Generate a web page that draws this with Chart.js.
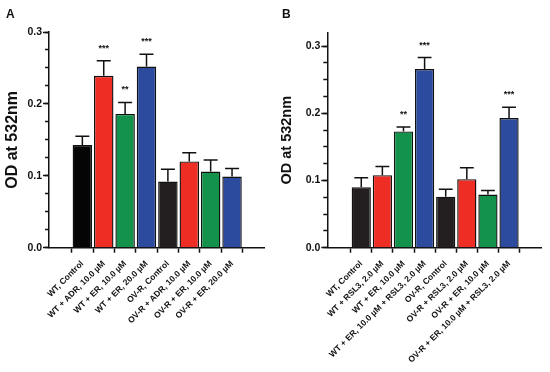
<!DOCTYPE html>
<html>
<head>
<meta charset="utf-8">
<script src="https://cdn.jsdelivr.net/npm/chart.js@4.4.1/dist/chart.umd.min.js"></script>
<style>
  html, body { margin: 0; padding: 0; background: #fff; }
  #wrap { position: relative; width: 550px; height: 372px; overflow: hidden; }
  canvas { position: absolute; top: 0; }
  .panel { position: absolute; top: 8px; font: bold 12px Arial, "Liberation Sans", sans-serif; line-height: 1; color: #111; }
</style>
</head>
<body>
<div id="wrap">
  <canvas id="chartA" width="275" height="372" style="left:0"></canvas>
  <canvas id="chartB" width="275" height="372" style="left:275px"></canvas>
  <div class="panel" style="left:6px">A</div>
  <div class="panel" style="left:282px">B</div>
</div>
<script>
// DATA FOR PANEL A
const labelsA = ["WT, Control", "WT + ADR, 10.0 µM", "WT + ER, 10.0 µM", "WT + ER, 20.0 µM",
  "OV-R, Control", "OV-R + ADR, 10.0 µM", "OV-R + ER, 10.0 µM", "OV-R + ER, 20.0 µM"];
const meansA = [0.143, 0.239, 0.186, 0.252, 0.092, 0.120, 0.106, 0.099];
const semA = [0.012, 0.021, 0.016, 0.017, 0.017, 0.012, 0.016, 0.011];
const starsA = ["", "***", "**", "***", "", "", "", ""];

// DATA FOR PANEL B
const labelsB = ["WT, Control", "WT + RSL3, 2.0 µM", "WT + ER, 10.0 µM", "WT + ER, 10.0 µM + RSL3, 2.0 µM",
  "OV-R, Control", "OV-R + RSL3, 2.0 µM", "OV-R + ER, 10.0 µM", "OV-R + ER, 10.0 µM + RSL3, 2.0 µM"];
const meansB = [0.090, 0.108, 0.173, 0.266, 0.076, 0.102, 0.079, 0.193];
const semB = [0.014, 0.013, 0.0065, 0.017, 0.011, 0.017, 0.006, 0.016];
const starsB = ["", "", "**", "***", "", "", "", "***"];

// BAR COLOURS
const colorsA = ["#050505", "#ee2e24", "#12924a", "#2d4b9e", "#231f20", "#ee2e24", "#12924a", "#2d4b9e"];
const colorsB = ["#231f20", "#ee2e24", "#12924a", "#2d4b9e", "#231f20", "#ee2e24", "#12924a", "#2d4b9e"];

const FONT = 'Arial, "Liberation Sans", sans-serif';
Chart.defaults.font.family = FONT;
Chart.defaults.color = "#111";

// ERROR BARS (UPPER ONLY) AND SIGNIFICANCE STARS
function errorBarPlugin(sems, stars) {
	return {
		id: "errorBars",
		afterDatasetsDraw(chart) {
			const ctx = chart.ctx;
			const y = chart.scales.y;
			const meta = chart.getDatasetMeta(0);
			const data = chart.data.datasets[0].data;
			ctx.save();
			ctx.strokeStyle = "#111";
			ctx.lineWidth = 1.5;
			ctx.fillStyle = "#111";
			ctx.font = "bold 9px " + FONT;
			ctx.textAlign = "center";
			meta.data.forEach(function (bar, i) {
				const top = y.getPixelForValue(data[i].y + sems[i]);
				const half = bar.width * 0.36;
				ctx.beginPath();
				ctx.moveTo(bar.x, bar.y);
				ctx.lineTo(bar.x, top);
				ctx.moveTo(bar.x - half, top);
				ctx.lineTo(bar.x + half, top);
				ctx.stroke();
				if (stars[i]) ctx.fillText(stars[i], bar.x, top - 10);
			});
			ctx.restore();
		},
	};
}

function drawPanel(id, labels, means, sems, stars, colors, frame) {
	new Chart(document.getElementById(id), {
		type: "bar",
		data: {
			datasets: [{
				data: means.map((v, i) => ({ x: i, y: v })),
				backgroundColor: colors,
				borderColor: "#111",
				borderWidth: 1.4,
				barPercentage: 0.91,
				categoryPercentage: 1,
			}],
		},
		options: {
			responsive: false,
			animation: false,
			layout: { padding: { left: 0, top: frame.top, right: frame.right, bottom: 0 } },
			plugins: { legend: { display: false }, tooltip: { enabled: false } },
			scales: {
				x: {
					type: "linear",
					min: frame.xMin,
					max: frame.xMax,
					afterFit: (s) => { s.height = frame.xHeight; },
					border: { color: "#111", width: 1.5 },
					grid: { drawOnChartArea: false, tickLength: 5, tickWidth: 1.5, tickColor: "#111" },
					ticks: {
						stepSize: 1, includeBounds: false, autoSkip: false,
						minRotation: 45, maxRotation: 45, padding: 6,
						font: { size: 8.5, weight: "bold" },
						callback: (v) => labels[v],
					},
				},
				y: {
					min: 0,
					max: frame.yMax,
					weight: 1,
					afterFit: (s) => { s.width = frame.left; },
					border: { color: "#111", width: 1.5 },
					grid: { drawOnChartArea: false, tickLength: 6, tickWidth: 1.5, tickColor: "#111" },
					ticks: {
						stepSize: 0.1, includeBounds: false, padding: 1,
						font: { size: 10.5, weight: "bold" },
						callback: (v) => v.toFixed(1),
					},
					title: {
						display: true, text: "OD at 532nm",
						font: { size: frame.titleSize, weight: "bold" },
						padding: { top: 3, bottom: 0 },
					},
				},
				yMinor: {
					position: "left",
					min: 0,
					max: frame.yMax,
					weight: 0,
					afterFit: (s) => { s.width = 0; },
					border: { display: false },
					grid: { drawOnChartArea: false, tickLength: 4, tickWidth: 1.5, tickColor: "#111" },
					ticks: { display: false, stepSize: 0.025, includeBounds: false },
				},
			},
		},
		plugins: [errorBarPlugin(sems, stars)],
	});
}

drawPanel("chartA", labelsA, meansA, semA, starsA, colorsA,
	{ left: 49, right: 10.5, top: 32, xHeight: 124.3, yMax: 0.3, xMin: -0.93, xMax: 7.888, titleSize: 16 });
drawPanel("chartB", labelsB, meansB, semB, starsB, colorsB,
	{ left: 52.3, right: 8.3, top: 32.7, xHeight: 124.3, yMax: 0.32, xMin: -0.974, xMax: 7.912, titleSize: 14.5 });
</script>
</body>
</html>
